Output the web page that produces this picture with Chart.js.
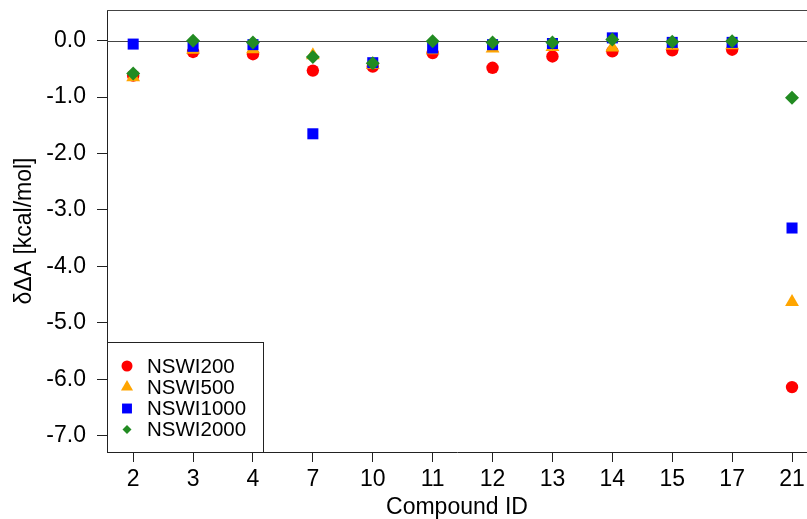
<!DOCTYPE html>
<html>
<head>
<meta charset="utf-8">
<script src="https://cdn.jsdelivr.net/npm/chart.js@4"></script>
<style>
  html, body { margin: 0; padding: 0; background: #fff; }
  #wrap { width: 807px; height: 519px; }
</style>
</head>
<body>
<div id="wrap"><canvas id="myChart" width="807" height="519"></canvas></div>
<script>
'use strict';

// Data
const compoundIds = ['2', '3', '4', '7', '10', '11', '12', '13', '14', '15', '17', '21'];
const nswi200 = [-0.62, -0.20, -0.24, -0.53, -0.46, -0.22, -0.48, -0.28, -0.19, -0.17, -0.16, -6.14];
const nswi500 = [-0.65, -0.16, -0.15, -0.26, -0.43, -0.17, -0.14, -0.11, -0.12, -0.09, -0.08, -4.63];
const nswi1000 = [-0.06, -0.10, -0.07, -1.65, -0.39, -0.13, -0.07, -0.05, 0.05, -0.03, -0.03, -3.32];
const nswi2000 = [-0.58, 0.00, -0.03, -0.29, -0.40, -0.01, -0.03, -0.03, 0.02, -0.02, -0.01, -1.01];
const yTicks = [0, -1, -2, -3, -4, -5, -6, -7];

const fontFamily = '"Liberation Sans", Arial, Helvetica, sans-serif';
const ctx = document.getElementById('myChart');

// series look: name, values, colour, point style, radius, legend radius
const seriesList = [
  {name: 'NSWI200', values: nswi200, color: '#ff0000', style: 'circle', radius: 6.2, legendRadius: 5.5},
  {name: 'NSWI500', values: nswi500, color: '#ffa500', style: 'triangle', radius: 8, legendRadius: 7},
  {name: 'NSWI1000', values: nswi1000, color: '#0000ff', style: 'rect', radius: 7.8, legendRadius: 7},
  {name: 'NSWI2000', values: nswi2000, color: '#228b22', style: 'rectRot', radius: 7, legendRadius: 4.5}
];

function toPoints(values){
  let points = [];
  for(let i = 0; i < values.length; i++){
    points.push({x: i + 1, y: values[i]});
  }
  return points;
}

let datasets = [];
for(let i = 0; i < seriesList.length; i++){
  let s = seriesList[i];
  datasets.push({
    label: s.name,
    data: toPoints(s.values),
    backgroundColor: s.color,
    borderColor: s.color,
    borderWidth: 0,
    pointStyle: s.style,
    pointRadius: s.radius,
    pointHoverRadius: s.radius,
    order: seriesList.length - i
  });
}

// draws one marker, using chart.js helper when there is one
function marker(c, style, x, y, r, color){
  c.save();
  c.fillStyle = color;
  c.strokeStyle = color;
  c.lineWidth = 0;
  if(Chart.helpers && Chart.helpers.drawPoint){
    Chart.helpers.drawPoint(c, {pointStyle: style, radius: r, rotation: 0, borderWidth: 0}, x, y);
  } else {
    c.beginPath();
    if(style === 'circle'){
      c.arc(x, y, r, 0, Math.PI * 2);
    } else if(style === 'triangle'){
      c.moveTo(x, y - r);
      c.lineTo(x + r * 0.866, y + r / 2);
      c.lineTo(x - r * 0.866, y + r / 2);
    } else if(style === 'rect'){
      let h = r * Math.SQRT1_2;
      c.rect(x - h, y - h, 2 * h, 2 * h);
    } else {
      c.moveTo(x - r, y);
      c.lineTo(x, y - r);
      c.lineTo(x + r, y);
      c.lineTo(x, y + r);
    }
    c.closePath();
    c.fill();
  }
  c.restore();
}

// no extra room for half labels, the frame is fixed
function noPadding(scale){
  scale.paddingTop = 0;
  scale.paddingBottom = 0;
  scale.paddingLeft = 0;
  scale.paddingRight = 0;
  if(scale._margins){
    scale._margins.left = 0;
    scale._margins.right = 0;
    scale._margins.top = 0;
    scale._margins.bottom = 0;
  }
}

// top border, zero line and the legend box
const framePlugin = {
  id: 'frame',
  beforeDatasetsDraw(chart){
    const c = chart.ctx;
    const area = chart.chartArea;
    const y0 = chart.scales.y.getPixelForValue(0);
    c.save();
    c.strokeStyle = '#444';
    c.lineWidth = 1;
    c.beginPath();
    c.moveTo(area.left, Math.round(area.top) + 0.5);
    c.lineTo(area.right, Math.round(area.top) + 0.5);
    c.moveTo(area.left, Math.round(y0) + 0.5);
    c.lineTo(area.right, Math.round(y0) + 0.5);
    c.stroke();
    c.restore();
  },
  afterDatasetsDraw(chart){
    const c = chart.ctx;
    const area = chart.chartArea;
    const boxLeft = area.left;
    const boxRight = 263;
    const boxTop = 342;
    const boxBottom = area.bottom;
    c.save();
    c.fillStyle = '#fff';
    c.fillRect(boxLeft, boxTop, boxRight - boxLeft, boxBottom - boxTop);
    c.strokeStyle = '#222';
    c.lineWidth = 1;
    c.strokeRect(boxLeft + 0.5, boxTop + 0.5, boxRight - boxLeft, boxBottom - boxTop);
    const rows = [366, 387, 408.5, 429.5];
    c.font = '20.5px ' + fontFamily;
    c.textBaseline = 'middle';
    c.textAlign = 'left';
    for(let i = 0; i < seriesList.length; i++){
      let s = seriesList[i];
      marker(c, s.style, 127, rows[i], s.legendRadius, s.color);
      c.fillStyle = '#000';
      c.fillText(s.name, 147, rows[i] + 1);
    }
    c.restore();
  }
};

new Chart(ctx, {
  type: 'scatter',
  data: {datasets: datasets},
  plugins: [framePlugin],
  options: {
    responsive: false,
    animation: false,
    events: [],
    layout: {autoPadding: false, padding: {top: 10, right: 0, left: 0, bottom: 0}},
    plugins: {
      legend: {display: false},
      tooltip: {enabled: false}
    },
    scales: {
      x: {
        type: 'linear',
        min: 0.563,
        max: 12.25,
        afterBuildTicks: function(scale){
          scale.ticks = compoundIds.map(function(id, i){ return {value: i + 1}; });
        },
        afterFit: function(scale){
          scale.height = 67;
          noPadding(scale);
        },
        ticks: {
          color: '#000',
          font: {family: fontFamily, size: 23},
          padding: 4,
          maxRotation: 0,
          autoSkip: false,
          callback: function(value){ return compoundIds[Math.round(value) - 1]; }
        },
        grid: {
          drawOnChartArea: false,
          drawTicks: true,
          tickLength: 10,
          color: '#222'
        },
        border: {display: true, color: '#222'},
        title: {
          display: true,
          text: 'Compound ID',
          color: '#000',
          font: {family: fontFamily, size: 23},
          padding: {top: 0, bottom: -2}
        }
      },
      y: {
        type: 'linear',
        min: -7.29,
        max: 0.544,
        afterBuildTicks: function(scale){
          scale.ticks = yTicks.map(function(v){ return {value: v}; });
        },
        afterFit: function(scale){
          scale.width = 107;
          noPadding(scale);
        },
        ticks: {
          color: '#000',
          font: {family: fontFamily, size: 23},
          padding: 11,
          callback: function(value){ return value.toFixed(1); }
        },
        grid: {
          drawOnChartArea: false,
          drawTicks: true,
          tickLength: 10,
          color: '#222'
        },
        border: {display: true, color: '#222'},
        title: {
          display: true,
          text: 'δΔA [kcal/mol]',
          color: '#000',
          font: {family: fontFamily, size: 23},
          padding: {top: 11, bottom: 0}
        }
      }
    }
  }
});
</script>
</body>
</html>
